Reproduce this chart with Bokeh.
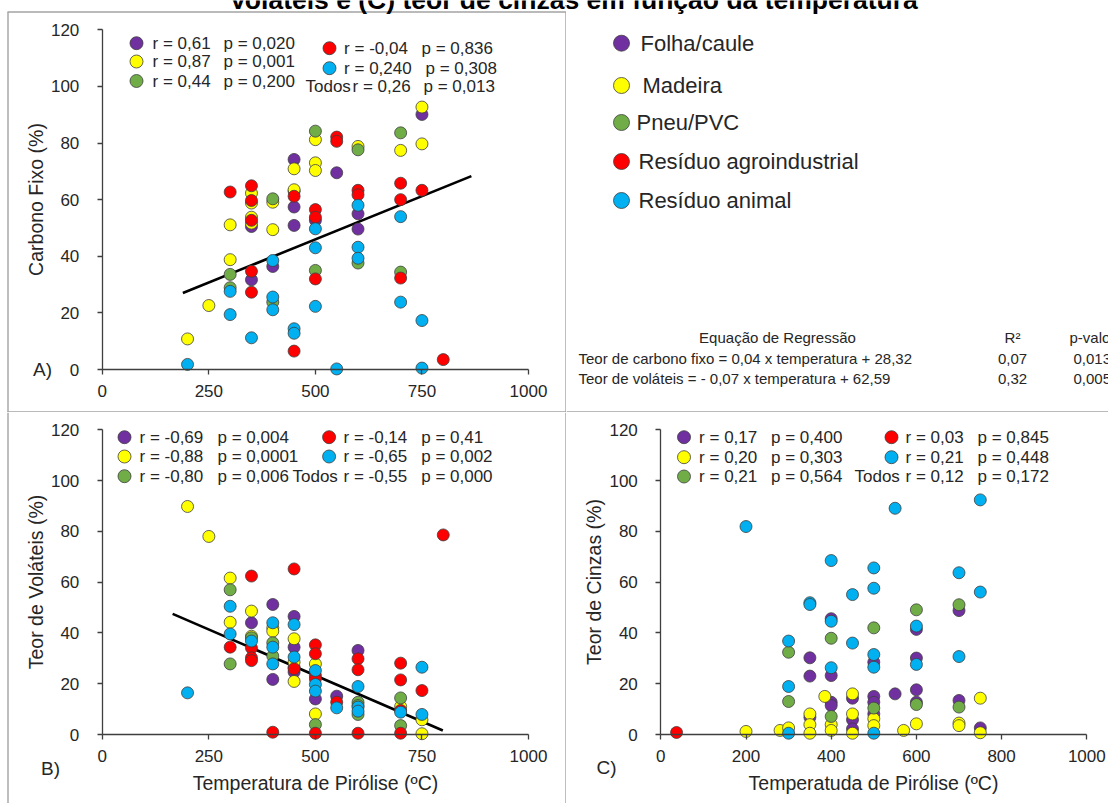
from bokeh.plotting import figure
from bokeh.models import Range1d, FixedTicker
from bokeh.layouts import column, row
from bokeh.embed import file_html
from bokeh.resources import INLINE
from bokeh.core.properties import value

FONT = "Liberation Sans"
TXT = "#262626"
EDGE = "#3f3f3f"
BORDER = "#a3a3a3"

# ---------------- categories ----------------
series_names = ["Folha/caule", "Madeira", "Pneu/PVC", "Resíduo agroindustrial", "Resíduo animal"]
series_colors = ["#7030A0", "#FFFF00", "#70AD47", "#FF0000", "#00B0F0"]

# ---------------- Panel A: Carbono fixo ----------------
a_folha_x = [350, 350, 400, 450, 450, 450, 450, 500, 550, 600, 600, 750]
a_folha_y = [50.5, 31.7, 36.4, 74.2, 63.0, 57.4, 50.9, 52.7, 69.5, 55.0, 49.6, 90.1]
a_madeira_x = [200, 250, 300, 300, 350, 350, 350, 350, 400, 400, 450, 450, 500, 500, 500, 600, 700, 750, 750]
a_madeira_y = [10.8, 22.6, 51.1, 38.8, 62.3, 58.8, 53.8, 51.7, 59.1, 49.4, 70.9, 63.5, 81.2, 73.0, 70.3, 78.8, 77.4, 92.7, 79.7]
a_pneu_x = [300, 300, 400, 400, 500, 500, 600, 600, 700, 700]
a_pneu_y = [33.6, 28.9, 60.3, 23.8, 84.2, 35.0, 77.6, 37.6, 83.6, 34.4]
a_agro_x = [300, 350, 350, 350, 350, 350, 450, 450, 500, 500, 500, 550, 550, 600, 600, 700, 700, 700, 750, 800]
a_agro_y = [62.7, 64.9, 59.7, 52.7, 34.7, 27.3, 61.2, 6.5, 56.5, 53.8, 32.0, 82.1, 80.6, 63.3, 61.7, 65.8, 60.0, 32.3, 63.3, 3.5]
a_animal_x = [200, 300, 300, 350, 400, 400, 400, 450, 450, 500, 500, 500, 550, 600, 600, 600, 700, 700, 750, 750]
a_animal_y = [1.8, 27.6, 19.4, 11.2, 38.5, 25.6, 21.1, 14.4, 12.8, 49.7, 43.0, 22.3, 0.2, 58.0, 43.2, 39.3, 54.0, 23.8, 17.3, 0.5]
a_reg_x = [189, 866]
a_reg_y = [27.0, 68.3]
a_r = ["r = 0,61", "r = 0,87", "r = 0,44", "r = -0,04", "r = 0,240", "r = 0,26"]
a_p = ["p = 0,020", "p = 0,001", "p = 0,200", "p = 0,836", "p = 0,308", "p = 0,013"]

# ---------------- Panel B: Voláteis ----------------
b_folha_x = [350, 400, 400, 450, 450, 450, 450, 500, 550, 600]
b_folha_y = [44.0, 51.2, 21.7, 46.5, 34.4, 26.5, 24.6, 14.0, 15.1, 33.1]
b_madeira_x = [200, 250, 300, 300, 350, 350, 400, 400, 450, 450, 450, 500, 500, 700, 750, 750]
b_madeira_y = [89.8, 78.0, 61.6, 44.2, 48.6, 38.7, 42.0, 40.7, 37.7, 28.5, 20.9, 27.8, 8.1, 11.0, 5.8, 0.3]
b_pneu_x = [300, 300, 350, 400, 400, 500, 600, 600, 600, 700, 700]
b_pneu_y = [57.0, 27.8, 38.1, 36.1, 30.9, 3.9, 12.7, 11.4, 7.9, 14.4, 3.5]
b_agro_x = [300, 350, 350, 350, 350, 400, 450, 450, 500, 500, 500, 500, 500, 550, 600, 600, 600, 700, 700, 700, 700, 750, 800]
b_agro_y = [34.4, 62.4, 34.1, 30.2, 29.1, 0.9, 65.2, 25.9, 35.3, 31.8, 23.2, 21.9, 0.5, 12.7, 29.8, 25.5, 0.5, 28.1, 21.5, 9.5, 0.5, 17.3, 78.6]
b_animal_x = [200, 300, 300, 350, 400, 400, 400, 450, 450, 500, 500, 500, 550, 600, 600, 600, 700, 750, 750]
b_animal_y = [16.4, 50.5, 39.6, 36.8, 44.0, 34.4, 27.8, 43.3, 30.5, 25.2, 19.7, 17.1, 10.5, 18.9, 10.8, 9.2, 8.8, 26.5, 7.9]
b_reg_x = [165, 799]
b_reg_y = [47.5, 1.6]
b_r = ["r = -0,69", "r = -0,88", "r = -0,80", "r = -0,14", "r = -0,65", "r = -0,55"]
b_p = ["p = 0,004", "p = 0,0001", "p = 0,006", "p = 0,41", "p = 0,002", "p = 0,000"]

# ---------------- Panel C: Cinzas ----------------
c_folha_x = [350, 350, 350, 400, 400, 400, 400, 450, 450, 450, 500, 500, 500, 500, 550, 600, 600, 600, 600, 700, 700, 750]
c_folha_y = [30.2, 23.0, 6.8, 45.6, 23.2, 12.7, 11.4, 14.3, 5.8, 2.2, 28.5, 15.0, 12.7, 8.1, 16.0, 41.4, 30.1, 17.6, 12.7, 48.8, 13.4, 2.6]
c_madeira_x = [200, 280, 300, 350, 350, 350, 385, 400, 400, 450, 450, 450, 500, 500, 570, 600, 700, 700, 750, 750]
c_madeira_y = [1.2, 1.6, 2.6, 8.1, 3.9, 0.5, 15.0, 3.9, 1.6, 16.0, 8.1, 0.5, 6.2, 3.5, 1.6, 4.2, 4.5, 3.5, 14.3, 0.7]
c_pneu_x = [300, 300, 400, 400, 500, 500, 600, 600, 700, 700]
c_pneu_y = [32.4, 13.0, 37.9, 7.1, 42.0, 10.4, 49.1, 11.8, 51.1, 10.8]
c_agro_x = [37]
c_agro_y = [0.8]
c_animal_x = [200, 300, 300, 300, 350, 350, 400, 400, 400, 450, 450, 500, 500, 500, 500, 500, 550, 600, 600, 700, 700, 750, 750]
c_animal_y = [81.9, 36.8, 18.9, 0.5, 51.9, 51.2, 68.5, 44.6, 26.3, 55.1, 36.0, 65.6, 57.6, 31.5, 26.5, 0.5, 89.1, 42.7, 27.6, 63.7, 30.7, 92.4, 56.1]
c_r = ["r = 0,17", "r = 0,20", "r = 0,21", "r = 0,03", "r = 0,21", "r = 0,12"]
c_p = ["p = 0,400", "p = 0,303", "p = 0,564", "p = 0,845", "p = 0,448", "p = 0,172"]

ab_xticks = [0, 250, 500, 750, 1000]
c_xticks = [0, 200, 400, 600, 800, 1000]
y_ticks = [0, 20, 40, 60, 80, 100, 120]

title_text = "Voláteis e (C) teor de cinzas em função da temperatura"
table_header = ["Equação de Regressão", "R²", "p-valor"]
table_eq = ["Teor de carbono fixo = 0,04 x temperatura + 28,32", "Teor de voláteis = - 0,07 x temperatura + 62,59"]
table_r2 = ["0,07", "0,32"]
table_pv = ["0,013", "0,005"]


def cell(cl, ct, cr, cb, geo=None):
    """A figure that fills one cell of the page; screen-pixel range 'px' for decorations."""
    w, h = cr - cl, cb - ct
    if geo is None:
        xr, yr = Range1d(cl, cr), Range1d(cb, ct)
    else:
        x0, x1, y0, y1 = geo  # screen px of x=0, x=1000, y=0, y=120
        kx = (x1 - x0) / 1000.0
        ky = (y0 - y1) / 120.0
        xr = Range1d((cl - x0) / kx, (cr - x0) / kx)
        yr = Range1d((y0 - cb) / ky, (y0 - ct) / ky)
    p = figure(width=w, height=h, output_backend="svg", toolbar_location=None,
               x_range=xr, y_range=yr, min_border=0,
               x_axis_location=None if geo is None else "below",
               y_axis_location=None if geo is None else "left",
               background_fill_color="white", border_fill_color="white",
               outline_line_color=None)
    p.title.visible = False
    p.grid.visible = False
    p.extra_x_ranges = {"px": Range1d(cl, cr)}
    p.extra_y_ranges = {"px": Range1d(cb, ct)}
    return p


def px_text(p, x, y, text, size, align="left", baseline="middle", style="normal", color=TXT):
    p.text(x=x, y=y, text=text, x_range_name="px", y_range_name="px",
           text_align=align, text_baseline=baseline, text_font=value(FONT),
           text_font_size=size, text_font_style=style, text_color=color)


def px_lines(p, xs, ys):
    p.multi_line(xs=xs, ys=ys, x_range_name="px", y_range_name="px",
                 line_color=BORDER, line_width=1.4)


def style_axes(p, xticks, ylabel, xlabel):
    p.xaxis.fixed_location = 0
    p.yaxis.fixed_location = 0
    p.xaxis.bounds = (0, 1000)
    p.yaxis.bounds = (0, 120)
    p.xaxis.ticker = FixedTicker(ticks=xticks)
    p.yaxis.ticker = FixedTicker(ticks=y_ticks)
    for ax in (p.xaxis[0], p.yaxis[0]):
        ax.axis_line_color = EDGE
        ax.axis_line_width = 1.3
        ax.major_tick_line_color = EDGE
        ax.major_tick_line_width = 1.3
        ax.major_tick_out = 5
        ax.major_tick_in = 0
        ax.minor_tick_line_color = None
        ax.major_label_text_font = FONT
        ax.major_label_text_font_size = "17px"
        ax.major_label_text_color = TXT
        ax.axis_label_text_font = FONT
        ax.axis_label_text_font_style = "normal"
        ax.axis_label_text_font_size = "19.5px"
        ax.axis_label_text_color = TXT
    p.yaxis.major_label_standoff = 18
    p.xaxis.major_label_standoff = 10
    p.yaxis.axis_label = ylabel
    p.yaxis.axis_label_standoff = 1
    if xlabel:
        p.xaxis.axis_label = xlabel
        p.xaxis.axis_label_standoff = 7


def add_points(p, xs, ys, reg_x=None, reg_y=None):
    if reg_x is not None:
        p.line(reg_x, reg_y, line_color="black", line_width=2.6)
    for x, y, c in zip(xs, ys, series_colors):
        p.scatter(x, y, size=12, fill_color=c, line_color=EDGE, line_width=0.8)


def stats_block(p, r_txt, p_txt, m1x, r1x, p1x, rows1, m2x, r2x, p2x, rows2, todos_x):
    p.scatter([m1x] * 3, rows1, size=13, fill_color=series_colors[:3], line_color=EDGE,
              line_width=0.8, x_range_name="px", y_range_name="px")
    px_text(p, [r1x] * 3, rows1, r_txt[:3], "17px")
    px_text(p, [p1x] * 3, rows1, p_txt[:3], "17px")
    p.scatter([m2x] * 2, rows2[:2], size=13, fill_color=series_colors[3:], line_color=EDGE,
              line_width=0.8, x_range_name="px", y_range_name="px")
    px_text(p, r2x, rows2, r_txt[3:], "17px")
    px_text(p, p2x, rows2, p_txt[3:], "17px")
    px_text(p, [todos_x], [rows2[2]], ["Todos"], "17px")


W_RIGHT = 1108
H_BOTTOM = 803
TITLE_Y = -1.0  # the title is cut by the top of the picture, as in the original

# ---------------- cell A (top-left) ----------------
pA = cell(0, 0, 566, 412, geo=(101.8, 528.0, 369.0, 29.3))
px_lines(pA, [[7, 566], [7.5, 7.5], [565.5, 565.5], [7, 566]],
         [[11.5, 11.5], [11.5, 412], [11.5, 412], [411.5, 411.5]])
px_text(pA, [573], [TITLE_Y], [title_text], "26.5px", align="center", baseline="alphabetic",
        style="bold", color="black")
style_axes(pA, ab_xticks, "Carbono Fixo (%)", None)
add_points(pA, [a_folha_x, a_madeira_x, a_pneu_x, a_agro_x, a_animal_x],
           [a_folha_y, a_madeira_y, a_pneu_y, a_agro_y, a_animal_y], a_reg_x, a_reg_y)
stats_block(pA, a_r, a_p, 136, 152, 223, [42.7, 61, 80.5], 329, [343.6, 343.6, 352],
            [421, 425, 423], [47.7, 67.7, 86], 305)
px_text(pA, [42], [369], ["A)"], "19px", align="center")

# ---------------- cell top-right: legend + regression table ----------------
pT = cell(566, 0, W_RIGHT, 412)
px_lines(pT, [[566, W_RIGHT]], [[411.5, 411.5]])
px_text(pT, [573], [TITLE_Y], [title_text], "26.5px", align="center", baseline="alphabetic",
        style="bold", color="black")
leg_y = [42.7, 85, 122, 161, 200]
leg_tx = [640, 642, 636, 638, 638]
pT.scatter([621] * 5, leg_y, size=16, fill_color=series_colors, line_color=EDGE, line_width=0.8,
           x_range_name="px", y_range_name="px")
px_text(pT, leg_tx, leg_y, series_names, "22px")
px_text(pT, [777, 1012], [337, 337], table_header[:2], "15px", align="center")
px_text(pT, [1069], [337], table_header[2:], "15px")
px_text(pT, [578, 578], [358, 378], table_eq, "15px")
px_text(pT, [1012, 1012], [358, 378], table_r2, "15px", align="center")
px_text(pT, [1073, 1073], [358, 378], table_pv, "15px")

# ---------------- cell B (bottom-left) ----------------
pB = cell(0, 412, 566, H_BOTTOM, geo=(101.8, 528.0, 734.0, 429.3))
px_lines(pB, [[7.5, 7.5], [565.5, 565.5]], [[412, H_BOTTOM], [412, H_BOTTOM]])
style_axes(pB, ab_xticks, "Teor de Voláteis (%)", "Temperatura de Pirólise (ºC)")
add_points(pB, [b_folha_x, b_madeira_x, b_pneu_x, b_agro_x, b_animal_x],
           [b_folha_y, b_madeira_y, b_pneu_y, b_agro_y, b_animal_y], b_reg_x, b_reg_y)
stats_block(pB, b_r, b_p, 124, 139, 217, [436.7, 456, 475.7], 328.6, [343, 343, 343],
            [420.7, 420.7, 420.7], [436.7, 456, 475.7], 292)
px_text(pB, [50], [768], ["B)"], "19px", align="center")

# ---------------- cell C (bottom-right) ----------------
pC = cell(566, 412, W_RIGHT, H_BOTTOM, geo=(660.3, 1086.3, 734.0, 429.3))
style_axes(pC, c_xticks, "Teor de Cinzas (%)", "Temperatuda de Pirólise (ºC)")
add_points(pC, [c_folha_x, c_madeira_x, c_pneu_x, c_agro_x, c_animal_x],
           [c_folha_y, c_madeira_y, c_pneu_y, c_agro_y, c_animal_y])
stats_block(pC, c_r, c_p, 683.5, 698.6, 770.5, [436.7, 456.7, 476], 891, [905, 905, 905],
            [977, 977, 977], [436.7, 456.7, 476], 854)
px_text(pC, [606], [767], ["C)"], "19px", align="center")

layout = column(row(pA, pT, spacing=0), row(pB, pC, spacing=0), spacing=0)

open("out.html", "w").write(file_html(layout, INLINE))
